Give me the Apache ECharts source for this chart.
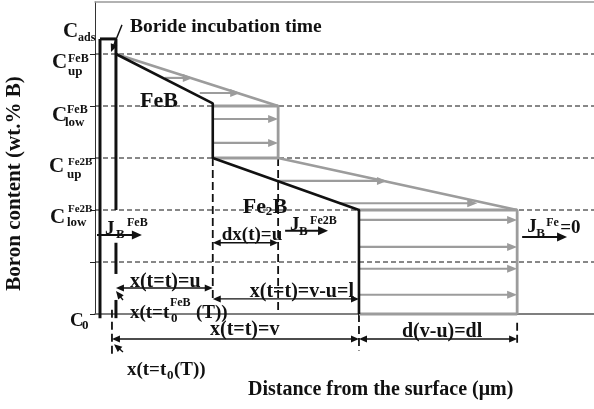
<!DOCTYPE html>
<html><head><meta charset="utf-8">
<script src="https://cdn.jsdelivr.net/npm/echarts@6/dist/echarts.min.js"></script>
<style>html,body{margin:0;padding:0;background:#fff}#c{width:594px;height:409px}</style>
</head><body><div id="c"></div>
<script>
// ---------------- data (schematic units: x = distance 0..100, y = boron level 0..6) ----------------
const levelValues = [0, 1, 2, 3, 4, 5];           // C0, (unlabelled), Clow Fe2B, Cup Fe2B, Clow FeB, Cup FeB
const dashedLevels = [1, 2, 3, 4, 5];
const cAds = 5.29;
const X_RECT_L = 1.0, X_RECT_R = 4.2, X_T0 = 3.4;
const X_U = 23.6, X_UG = 36.7, X_V = 52.9, X_VG = 84.6;

const blackProfile = [[X_RECT_R, 5], [X_U, 4.05], [X_U, 3], [X_V, 2], [X_V, 0]];
const grayProfile  = [[X_RECT_R, 5], [X_UG, 4], [X_UG, 3], [X_VG, 2], [X_VG, 0]];
const grayEdges = [[X_U, 4, X_UG, 4], [X_U, 3, X_UG, 3], [X_V, 2, X_VG, 2], [X_V, 0, X_VG, 0]];
const incubationRect = [
  [X_RECT_L, -0.08, X_RECT_L, cAds], [X_RECT_L, cAds, X_RECT_R, cAds],
  [X_RECT_R, cAds, X_RECT_R, 2.0], [X_RECT_R, 1.37, X_RECT_R, 0.77], [X_RECT_R, 0.27, X_RECT_R, -0.08]
];
// gray flux arrows: [xStart, y, xEnd]
const fluxArrows = [
  [14.0, 4.54, 19.6], [21.0, 4.25, 29.1],
  [X_U, 3.75, X_UG], [X_U, 3.29, X_UG],
  [36.7, 2.56, 58.5], [48.9, 2.13, 76.6],
  [X_V, 1.81, X_VG], [X_V, 1.29, X_VG], [X_V, 0.87, X_VG], [X_V, 0.37, X_VG]
];
// dimension arrows: [x1, y1, x2, y2, headAtStart, headAtEnd]
const dimArrows = [
  [X_U, 1.37, X_UG, 1.37, 1, 1],
  [X_RECT_R, 0.5, X_U, 0.5, 1, 1],
  [X_U, 0.29, X_V, 0.29, 1, 1],
  [X_T0, -0.48, X_V, -0.48, 1, 1],
  [X_V, -0.48, X_VG, -0.48, 1, 1],
  [5.41, 5.56, 3.21, 5.04, 0, 1],
  [5.61, 0.27, 4.21, 0.44, 0, 1],
  [5.61, -0.73, 3.81, -0.58, 0, 1]
];
const fluxJ = [
  [0.4, 1.52, 9.4, 1.52, 0, 1],
  [38.1, 1.60, 46.7, 1.60, 0, 1],
  [85.6, 1.48, 94.6, 1.48, 0, 1]
];
const dashedVerticals = [
  [X_U, 3, X_U, 0.29], [X_UG, 3, X_UG, 0], [X_T0, 0.08, X_T0, -0.77],
  [X_V, 0, X_V, -0.7], [X_VG, -0.17, X_VG, -0.6]
];

// ---------------- drawing ----------------
const BLACK = '#111', GRAY = '#9c9c9c';
function head(tip, from, L, W, color) {
  const dx = tip[0] - from[0], dy = tip[1] - from[1], len = Math.hypot(dx, dy) || 1;
  const ux = dx / len, uy = dy / len, bx = tip[0] - ux * L, by = tip[1] - uy * L;
  return { type: 'polygon', shape: { points: [[tip[0], tip[1]], [bx - uy * W, by + ux * W], [bx + uy * W, by - ux * W]] },
           style: { fill: color } };
}
function segSeries(name, data, color, width, dash, L, W, z) {
  return {
    type: 'custom', name, data, clip: false, silent: true, z, animation: false,
    renderItem(params, api) {
      let p1 = api.coord([api.value(0), api.value(1)]);
      let p2 = api.coord([api.value(2), api.value(3)]);
      const hs = api.value(4) === 1, he = api.value(5) === 1;
      const dx = p2[0] - p1[0], dy = p2[1] - p1[1], len = Math.hypot(dx, dy) || 1;
      const ux = dx / len, uy = dy / len;
      const a = hs ? [p1[0] + ux * L * 0.6, p1[1] + uy * L * 0.6] : p1;
      const b = he ? [p2[0] - ux * L * 0.6, p2[1] - uy * L * 0.6] : p2;
      const ch = [{ type: 'line', shape: { x1: a[0], y1: a[1], x2: b[0], y2: b[1] },
                    style: { stroke: color, lineWidth: width, lineDash: dash || null } }];
      if (he) ch.push(head(p2, p1, L, W, color));
      if (hs) ch.push(head(p1, p2, L, W, color));
      return { type: 'group', children: ch };
    }
  };
}
const toSeg = a => a.map(r => r.length === 6 ? r : [r[0], r[1], r[2], r[3], 0, 0]);

const option = {
  animation: false,
  grid: { left: 95, right: 0, top: 2, bottom: 95 },
  xAxis: [
    { type: 'value', min: 0, max: 100, axisLine: { lineStyle: { color: '#555', width: 1.5 } },
      axisTick: { show: false }, axisLabel: { show: false }, splitLine: { show: false } },
    { type: 'value', min: 0, max: 100, position: 'top', axisLine: { onZero: false, lineStyle: { color: '#999', width: 1.5 } },
      axisTick: { show: false }, axisLabel: { show: false }, splitLine: { show: false } }
  ],
  yAxis: { type: 'value', min: 0, max: 6, interval: 1,
    axisLine: { show: true, lineStyle: { color: '#333', width: 1 } },
    axisTick: { show: true, length: 5, customValues: levelValues, lineStyle: { color: '#222', width: 1 } },
    axisLabel: { show: false }, splitLine: { show: false } },
  series: [
    segSeries('levels', dashedLevels.map(l => [0, l, 100, l, 0, 0]), BLACK, 1, [5, 3], 0, 0, 1),
    segSeries('dashV', toSeg(dashedVerticals), BLACK, 1.8, [8, 4], 0, 0, 2),
    segSeries('grayEdges', toSeg(grayEdges), GRAY, 2.8, null, 0, 0, 3),
    segSeries('flux', fluxArrows.map(r => [r[0], r[1], r[2], r[1], 0, 1]), GRAY, 2.2, null, 10, 4, 3),
    { type: 'line', data: grayProfile, showSymbol: false, clip: false, silent: true, z: 4,
      lineStyle: { color: GRAY, width: 2.8 } },
    { type: 'line', data: blackProfile, showSymbol: false, clip: false, silent: true, z: 5,
      lineStyle: { color: BLACK, width: 2.6 } },
    segSeries('rect', toSeg(incubationRect), BLACK, 3, null, 0, 0, 5),
    segSeries('dims', dimArrows, BLACK, 1.4, null, 8, 3.5, 6),
    segSeries('fluxJ', fluxJ, BLACK, 2, null, 10, 4.5, 6)
  ]
};
const chart = echarts.init(document.getElementById('c'));
chart.setOption(option);

// ---------------- text ----------------
const FONT = '"Liberation Serif", "Times New Roman", serif';
const labels = [];
function T(anchor, dx, dy, text, size, extra) {
  labels.push(Object.assign({ anchor, dx, dy, text, size }, extra || {}));
}
// y-axis level labels
T([0, cAds], -32, -7, 'C', 21); T([0, cAds], -17, -1, 'ads', 12);
T([0, 5], -43, 9, 'C', 21); T([0, 5], -27, 5, 'FeB', 12); T([0, 5], -27, 18, 'up', 13);
T([0, 4], -43, 10, 'C', 21); T([0, 4], -28, 4, 'FeB', 12); T([0, 4], -30, 17, 'low', 13);
T([0, 3], -46, 9, 'C', 21); T([0, 3], -27, 4, 'Fe2B', 11); T([0, 3], -28, 17, 'up', 13);
T([0, 2], -45, 8, 'C', 21); T([0, 2], -27, -1, 'Fe2B', 11); T([0, 2], -28, 13, 'low', 13);
T([0, 0], -25, 7, 'C', 19); T([0, 0], -13, 12, '0', 13);
// annotations
T([X_RECT_R, cAds], 14, -12, 'Boride incubation time', 19.5);
T([X_RECT_R, 4], 24, -5, 'FeB', 22);
T([X_U, 2], 30, -3, 'Fe', 22); T([X_U, 2], 53, 2, '2', 13); T([X_U, 2], 60, -3, 'B', 22);
T([X_U, 1.37], 9, -8, 'dx(t)=u', 19);
T([0.4, 1.52], 8, -6, 'J', 19); T([0.4, 1.52], 19, 0, 'B', 13); T([0.4, 1.52], 30, -12, 'FeB', 12);
T([38.1, 1.6], 5, -6, 'J', 19); T([38.1, 1.6], 14, 1, 'B', 13); T([38.1, 1.6], 25, -10, 'Fe2B', 12);
T([85.6, 1.48], 5, -10, 'J', 19); T([85.6, 1.48], 14, -3, 'B', 13); T([85.6, 1.48], 24, -14, 'Fe', 12);
T([85.6, 1.48], 38, -9, '=0', 19);
T([X_RECT_R, 0.5], 14, -6, 'x(t=t)=u', 20);
T([X_U, 0.29], 37, -7, 'x(t=t)=v-u=l', 20);
T([X_RECT_R, 0], 14, -1, 'x(t=t', 19); T([X_RECT_R, 0], 55, 5, '0', 13); T([X_RECT_R, 0], 54, -11, 'FeB', 12);
T([X_RECT_R, 0], 80, -1, '(T))', 19);
T([X_T0, -0.48], 98, -9, 'x(t=t)=v', 20);
T([X_T0, -0.77], 15, 16, 'x(t=t', 19); T([X_T0, -0.77], 55, 22, '0', 13); T([X_T0, -0.77], 62, 16, '(T))', 19);
T([X_V, -0.48], 43, -7, 'd(v-u)=dl', 20);
// axis titles
T([0, 0], 153, 76, 'Distance from the surface (\u03bcm)', 20);
T([0, 3], -80, 25.5, 'Boron content (wt.% B)', 21, { rotate: true, align: 'center' });

const elements = labels.map(l => {
  const p = chart.convertToPixel({ gridIndex: 0 }, l.anchor);
  const align = l.align || 'left';
  return { type: 'text', x: p[0] + l.dx, y: p[1] + l.dy, rotation: l.rotate ? Math.PI / 2 : 0, z: 100, silent: true,
    style: { text: l.text, font: 'bold ' + l.size + 'px ' + FONT, fill: BLACK,
             textAlign: align, align: align, textVerticalAlign: 'middle', verticalAlign: 'middle' } };
});
chart.setOption({ graphic: { elements } });
</script></body></html>
